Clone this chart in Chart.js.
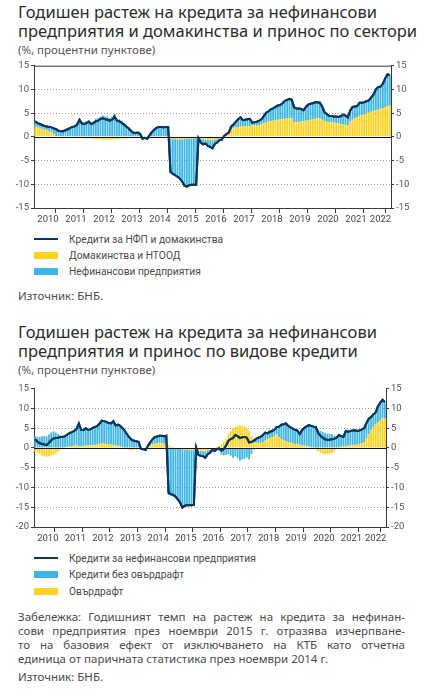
<!DOCTYPE html>
<html lang="bg">
<head>
<meta charset="utf-8">
<script src="https://cdn.jsdelivr.net/npm/chart.js@4/dist/chart.umd.min.js"></script>
<style>
html,body{margin:0;padding:0;background:#fff;}
body{width:424px;height:697px;position:relative;overflow:hidden;font-family:'Noto Sans','DejaVu Sans',sans-serif;}
.a{position:absolute;white-space:nowrap;}
.title{left:18px;font-size:16.5px;line-height:18.5px;color:#2b2b2b;}
.sub{left:18px;font-size:11.5px;line-height:14px;color:#555;}
.leg{left:34px;height:14px;}
.leg .sw{position:absolute;left:0;top:4px;width:24px;height:7px;}
.leg .ln{position:absolute;left:0;top:6px;width:24px;height:2px;background:#0c355f;}
.leg span{position:absolute;left:35px;top:0;font-family:'Roboto',sans-serif;font-size:11.5px;line-height:14px;color:#4a4a4a;transform:scaleX(0.89);transform-origin:0 50%;}
.src{left:18px;font-size:11.5px;line-height:14px;color:#4a4a4a;}
.note{left:18px;width:387px;font-size:11.5px;line-height:14px;color:#4a4a4a;}
.note div{text-align:justify;text-align-last:justify;white-space:nowrap;}
.note div.last{text-align-last:left;}
canvas{position:absolute;left:0;}
</style>
</head>
<body>
<div class="a title" style="top:3px">Годишен растеж на кредита за нефинансови<br>предприятия и домакинства и принос по сектори</div>
<div class="a sub" style="top:43px">(%, процентни пунктове)</div>
<canvas id="c1" width="424" height="170" style="top:58px"></canvas>
<div class="a leg" style="top:232px"><div class="ln"></div><span>Кредити за НФП и домакинства</span></div>
<div class="a leg" style="top:248px"><div class="sw" style="background:#ffd21f"></div><span>Домакинства и НТООД</span></div>
<div class="a leg" style="top:264px"><div class="sw" style="background:#3db6e6"></div><span>Нефинансови предприятия</span></div>
<div class="a src" style="top:289px">Източник: БНБ.</div>

<div class="a title" style="top:323px">Годишен растеж на кредита за нефинансови<br>предприятия и принос по видове кредити</div>
<div class="a sub" style="top:363px">(%, процентни пунктове)</div>
<canvas id="c2" width="424" height="166" style="top:381px"></canvas>
<div class="a leg" style="top:551px"><div class="ln"></div><span>Кредити за нефинансови предприятия</span></div>
<div class="a leg" style="top:567px"><div class="sw" style="background:#3db6e6"></div><span>Кредити без овърдрафт</span></div>
<div class="a leg" style="top:584px"><div class="sw" style="background:#ffd21f"></div><span>Овърдрафт</span></div>
<div class="a note" style="top:610px">
<div>Забележка: Годишният темп на растеж на кредита за нефинан-</div>
<div>сови предприятия през ноември 2015 г. отразява изчерпване-</div>
<div>то на базовия ефект от изключването на КТБ като отчетна</div>
<div class="last">единица от паричната статистика през ноември 2014 г.</div>
</div>
<div class="a src" style="top:670px">Източник: БНБ.</div>

<script>
// Month categories: Jan 2010 – Sep 2022
const yearLabels = ['2010','2011','2012','2013','2014','2015','2016','2017','2018','2019','2020','2021','2022'];
const monthsPerYear = [12,12,12,12,12,12,12,12,12,12,12,12,9];

// Chart 1: total credit to NFCs and households (%), contributions (pp)
const c1Total = [
 3.3,2.9,2.7,2.5,2.3,2.2,2.1,2.0,1.8,1.6,1.3,1.2,
 1.2,1.4,1.6,1.9,2.1,2.2,2.6,3.6,2.8,2.7,2.9,3.2,
 2.7,2.9,3.3,3.4,3.8,3.9,3.7,3.6,3.4,3.6,4.3,3.4,
 3.3,3.0,2.6,2.2,1.8,1.3,0.9,0.8,0.9,0.6,-0.4,-0.2,
 -0.4,0.3,1.0,1.5,1.9,2.1,2.1,2.0,2.1,2.1,-7.4,-7.8,
 -8.1,-8.4,-8.8,-9.4,-10.3,-10.5,-10.2,-10.1,-10.1,-10.1,-0.3,-1.2,
 -1.6,-1.4,-1.9,-2.1,-2.4,-1.5,-1.2,-0.7,-0.6,0.2,0.6,0.9,
 2.2,2.6,3.2,3.7,4.1,3.5,3.6,3.7,3.8,3.0,3.1,3.2,
 3.4,3.7,4.4,5.1,5.4,5.8,6.0,6.3,6.6,6.7,7.1,7.6,
 7.8,8.0,7.8,6.2,6.0,6.0,5.9,5.6,6.3,6.8,7.0,7.1,
 7.3,7.3,7.2,6.4,5.2,4.8,4.4,4.4,4.3,4.3,4.2,4.4,
 4.7,4.5,4.1,5.5,6.3,6.4,6.5,7.2,7.2,7.3,7.5,7.7,
 8.3,8.9,10.0,10.5,10.6,11.2,12.3,13.2,13.0
];
const c1Households = [
 2.2,2.1,1.9,1.7,1.5,1.4,1.2,1.0,0.6,0.2,-0.1,-0.2,
 -0.3,-0.3,-0.2,-0.2,-0.2,-0.3,-0.2,-0.2,-0.3,-0.3,-0.4,-0.3,
 -0.4,-0.4,-0.5,-0.5,-0.5,-0.6,-0.6,-0.7,-0.6,-0.6,-0.5,-0.5,
 -0.4,-0.4,-0.3,-0.4,-0.3,-0.3,-0.2,-0.2,-0.1,-0.1,-0.1,-0.1,
 0.0,0.0,0.0,0.0,-0.1,-0.1,-0.1,-0.1,-0.1,-0.2,-0.4,-0.5,
 -0.5,-0.5,-0.5,-0.5,-0.4,-0.4,-0.4,-0.3,-0.3,-0.3,-0.3,-0.4,
 -0.5,-0.6,-0.7,-0.7,-0.7,-0.6,-0.5,-0.3,-0.1,0.2,0.6,1.0,
 1.5,1.8,2.0,2.1,2.2,2.2,2.3,2.3,2.3,2.4,2.4,2.4,
 2.5,2.6,2.8,3.0,3.2,3.3,3.4,3.5,3.6,3.7,3.7,3.8,
 3.9,3.9,4.0,3.1,3.1,3.2,3.2,3.3,3.4,3.5,3.6,3.7,
 3.8,3.9,3.9,3.6,3.3,3.2,3.1,3.0,3.0,2.9,2.8,2.7,
 2.6,2.5,2.5,3.2,3.6,4.0,4.2,4.4,4.6,4.8,5.0,5.1,
 5.3,5.4,5.6,5.7,5.9,6.0,6.2,6.4,6.6
];
const c1Nfc = [
 1.1,0.8,0.8,0.8,0.8,0.8,0.9,1.0,1.2,1.4,1.4,1.4,
 1.5,1.7,1.8,2.1,2.3,2.5,2.8,3.8,3.1,3.0,3.3,3.5,
 3.1,3.3,3.8,3.9,4.3,4.5,4.3,4.3,4.0,4.2,4.8,3.9,
 3.7,3.4,2.9,2.6,2.1,1.6,1.1,1.0,1.0,0.7,-0.3,-0.1,
 -0.4,0.3,1.0,1.5,2.0,2.2,2.2,2.1,2.2,2.3,-7.0,-7.3,
 -7.6,-7.9,-8.3,-8.9,-9.9,-10.1,-9.8,-9.8,-9.8,-9.8,0.0,-0.8,
 -1.1,-0.8,-1.2,-1.4,-1.7,-0.9,-0.7,-0.4,-0.5,0.0,0.0,-0.1,
 0.7,0.8,1.2,1.6,1.9,1.3,1.3,1.4,1.5,0.6,0.7,0.8,
 0.9,1.1,1.6,2.1,2.2,2.5,2.6,2.8,3.0,3.0,3.4,3.8,
 3.9,4.1,3.8,3.1,2.9,2.8,2.7,2.3,2.9,3.3,3.4,3.4,
 3.5,3.4,3.3,2.8,1.9,1.6,1.3,1.4,1.3,1.4,1.4,1.7,
 2.1,2.0,1.6,2.3,2.7,2.4,2.3,2.8,2.6,2.5,2.5,2.6,
 3.0,3.5,4.4,4.8,4.7,5.2,6.1,6.8,6.4
];

// Chart 2: credit to NFCs (%), contributions by loan type (pp)
const c2Total = [
 2.2,1.6,1.2,1.0,0.9,0.7,1.3,2.0,2.4,2.5,2.6,2.8,
 2.8,3.0,3.4,3.8,4.0,4.3,4.8,6.2,4.6,4.5,5.0,4.6,
 4.7,5.1,5.3,5.6,6.2,6.9,6.8,6.6,6.3,6.2,6.8,5.7,
 5.9,5.6,5.0,4.3,3.4,2.6,2.0,1.8,1.7,1.5,-0.2,-0.3,
 -0.5,0.5,1.4,2.2,2.8,2.9,3.1,3.1,3.0,3.1,-11.3,-11.7,
 -11.9,-12.3,-13.0,-13.8,-15.1,-14.6,-14.5,-14.5,-14.5,-14.4,0.1,-1.8,
 -2.0,-2.1,-2.5,-1.6,-1.2,-0.5,-0.8,-0.3,-0.1,-0.7,-0.3,0.6,
 1.8,2.3,2.5,3.3,3.0,2.5,2.7,2.8,2.6,1.4,1.5,1.8,
 2.3,2.6,2.8,3.3,3.9,3.7,4.1,4.3,4.6,5.3,5.4,5.9,
 6.0,6.2,5.6,5.2,4.9,4.6,4.4,3.5,4.5,5.1,5.5,5.8,
 5.6,5.4,5.3,3.8,3.1,2.6,2.2,2.0,2.1,2.2,2.3,2.6,
 3.3,3.0,2.8,4.3,4.1,4.3,4.4,4.5,4.3,4.4,4.7,5.0,
 6.3,7.4,7.8,8.5,9.0,10.6,11.5,12.2,11.6
];
const c2Overdraft = [
 -0.8,-1.2,-1.6,-1.9,-2.1,-2.2,-2.1,-1.9,-1.8,-1.4,-0.9,-0.4,
 0.1,0.2,0.3,0.3,0.5,0.6,0.7,0.5,0.4,0.5,0.6,0.7,
 0.6,0.7,0.8,0.9,1.0,1.2,1.1,1.0,1.0,0.9,0.7,0.6,
 0.6,0.4,0.2,0.0,-0.3,-0.5,-0.5,-0.4,-0.3,-0.2,-0.1,0.0,
 0.2,0.4,0.7,0.9,1.1,1.2,1.3,1.2,1.1,1.0,0.6,0.4,
 0.3,0.1,-0.1,-0.2,-0.3,-0.4,-0.5,-0.5,-0.6,-0.5,-0.5,-0.6,
 -0.7,-0.8,-0.8,-0.6,-0.5,-0.3,0.0,0.3,0.6,1.0,1.6,2.3,
 3.4,4.3,5.0,5.4,5.6,5.7,5.6,5.5,5.0,4.3,3.0,2.2,
 1.4,1.2,1.3,1.5,1.8,2.2,2.5,2.8,3.0,3.4,2.7,2.2,
 1.9,1.7,1.5,1.3,1.2,1.0,1.0,0.8,0.7,0.6,0.5,0.4,
 0.2,0.0,-0.3,-0.8,-1.2,-1.5,-1.6,-1.6,-1.5,-1.3,-0.8,-0.3,
 0.1,0.3,0.4,0.5,0.6,0.6,0.7,0.8,0.8,0.9,1.1,1.5,
 2.5,3.5,4.6,5.3,6.0,6.6,7.1,7.5,7.6
];
const c2NoOverdraft = [
 3.0,2.8,2.8,2.9,3.0,2.9,3.4,3.9,4.2,3.9,3.5,3.2,
 2.7,2.8,3.1,3.5,3.5,3.7,4.1,5.7,4.2,4.0,4.4,3.9,
 4.1,4.4,4.5,4.7,5.2,5.7,5.7,5.6,5.3,5.3,6.1,5.1,
 5.3,5.2,4.8,4.3,3.7,3.1,2.5,2.2,2.0,1.7,-0.1,-0.3,
 -0.7,0.1,0.7,1.3,1.7,1.7,1.8,1.9,1.9,2.1,-11.9,-12.1,
 -12.2,-12.4,-12.9,-13.6,-14.8,-14.2,-14.0,-14.0,-13.9,-13.9,0.6,-1.2,
 -1.3,-1.3,-1.7,-1.0,-0.7,-0.2,-0.8,-0.6,-0.7,-1.7,-1.9,-1.7,
 -1.6,-2.0,-2.5,-2.1,-2.6,-3.2,-2.9,-2.7,-2.4,-2.9,-1.5,-0.4,
 0.9,1.4,1.5,1.8,2.1,1.5,1.6,1.5,1.6,1.9,2.7,3.7,
 4.1,4.5,4.1,3.9,3.7,3.6,3.4,2.7,3.8,4.5,5.0,5.4,
 5.4,5.4,5.6,4.6,4.3,4.1,3.8,3.6,3.6,3.5,3.1,2.9,
 3.2,2.7,2.4,3.8,3.5,3.7,3.7,3.7,3.5,3.5,3.6,3.5,
 3.8,3.9,3.2,3.2,3.0,4.0,4.4,4.7,4.0
];

const YELLOW = '#ffd21f', BLUE = '#3db6e6', NAVY = '#0c355f', AXIS = '#3a3a3a';

// month category positions (centre of each month on a 0..N month axis)
const months = [];
yearLabels.forEach((y, i) => { for (let k = 0; k < monthsPerYear[i]; k++) months.push(y + '-' + String(k + 1).padStart(2, '0')); });
const N = months.length;
const pts = arr => arr.map((v, i) => ({x: i + 0.5, y: v}));

// year boundary ticks and year-label ticks
const boundaryTicks = [], labelTicks = new Map();
let acc = 0;
yearLabels.forEach((y, i) => { boundaryTicks.push(acc); labelTicks.set(acc + monthsPerYear[i] / 2, y); acc += monthsPerYear[i]; });
boundaryTicks.push(acc);

const frameAndZero = {
  id: 'frameAndZero',
  afterDatasetsDraw(chart, args, opts) {
    const {ctx, chartArea: a, scales: {y}} = chart;
    ctx.save();
    ctx.strokeStyle = '#111'; ctx.lineWidth = 1;
    const y0 = Math.round(y.getPixelForValue(0)) + 0.5;
    ctx.beginPath(); ctx.moveTo(a.left, y0); ctx.lineTo(a.right, y0); ctx.stroke();
    // redraw the line series on top of the zero line
    const meta = chart.getDatasetMeta(opts.lineIndex);
    meta.controller.draw();
    if (opts.topBorder) {
      ctx.strokeStyle = AXIS;
      ctx.beginPath(); ctx.moveTo(a.left, a.top + 0.5); ctx.lineTo(a.right, a.top + 0.5); ctx.stroke();
    }
    ctx.restore();
  }
};

function makeChart(id, cfg) {
  const tickFont = {family: "'Roboto',sans-serif", size: 9.5};
  const yAxis = (pos, width) => ({
    position: pos, min: cfg.min, max: cfg.max, stacked: true,
    afterBuildTicks: s => { s.ticks = cfg.yTicks.map(v => ({value: v})); },
    ticks: {color: '#555', font: tickFont, padding: 2, autoSkip: false},
    grid: {
      drawOnChartArea: pos === 'left',
      color: c => (c.tick && (c.tick.value === 0 || c.tick.value === cfg.min || c.tick.value === cfg.max)) ? 'rgba(0,0,0,0)' : '#9d9d9d',
      tickColor: AXIS, tickLength: 3, lineWidth: 1
    },
    border: {display: true, color: AXIS, width: 1, dash: [1, 2]},
    afterFit: s => { s.width = width; }
  });
  return new Chart(document.getElementById(id), {
    type: 'bar',
    data: {
      datasets: [
        {type: 'line', label: cfg.lineLabel, data: pts(cfg.line), borderColor: NAVY, borderWidth: 2, pointRadius: 0, tension: 0, stack: 'line', order: 0},
        {label: cfg.b1Label, data: pts(cfg.b1), backgroundColor: cfg.b1Color, stack: 'bars', order: 1, barPercentage: 0.78, categoryPercentage: 1},
        {label: cfg.b2Label, data: pts(cfg.b2), backgroundColor: cfg.b2Color, stack: 'bars', order: 1, barPercentage: 0.78, categoryPercentage: 1}
      ]
    },
    options: {
      responsive: false, animation: false, events: [],
      layout: {padding: {top: cfg.padTop, left: 0, right: 0, bottom: 0}},
      plugins: {legend: {display: false}, tooltip: {enabled: false}, frameAndZero: {lineIndex: 0, topBorder: cfg.topBorder}},
      scales: {
        x: {
          type: 'linear', min: 0, max: N, stacked: true, offset: false,
          afterBuildTicks: s => { s.ticks = boundaryTicks.concat([...labelTicks.keys()]).sort((p, q) => p - q).map(v => ({value: v})); },
          ticks: {autoSkip: false, maxRotation: 0, color: '#444', font: {family: tickFont.family, size: 9.5}, padding: 1,
                  callback: v => labelTicks.get(v) || ''},
          grid: {drawOnChartArea: false, tickLength: 5, tickColor: c => (c.tick && boundaryTicks.includes(c.tick.value)) ? AXIS : 'rgba(0,0,0,0)'},
          border: {display: true, color: AXIS, width: 1},
          afterFit: s => { s.height = 20; }
        },
        y: yAxis('left', 34),
        y2: yAxis('right', cfg.rightWidth)
      }
    },
    plugins: [frameAndZero]
  });
}

makeChart('c1', {
  min: -15, max: 15, yTicks: [-15, -10, -5, 0, 5, 10, 15], padTop: 7, rightWidth: 33, topBorder: true,
  line: c1Total, lineLabel: 'Кредити за НФП и домакинства',
  b1: c1Households, b1Label: 'Домакинства и НТООД', b1Color: YELLOW,
  b2: c1Nfc, b2Label: 'Нефинансови предприятия', b2Color: BLUE
});
makeChart('c2', {
  min: -20, max: 15, yTicks: [-20, -15, -10, -5, 0, 5, 10, 15], padTop: 6, rightWidth: 38, topBorder: false,
  line: c2Total, lineLabel: 'Кредити за нефинансови предприятия',
  b1: c2Overdraft, b1Label: 'Овърдрафт', b1Color: YELLOW,
  b2: c2NoOverdraft, b2Label: 'Кредити без овърдрафт', b2Color: BLUE
});
</script>
</body>
</html>
